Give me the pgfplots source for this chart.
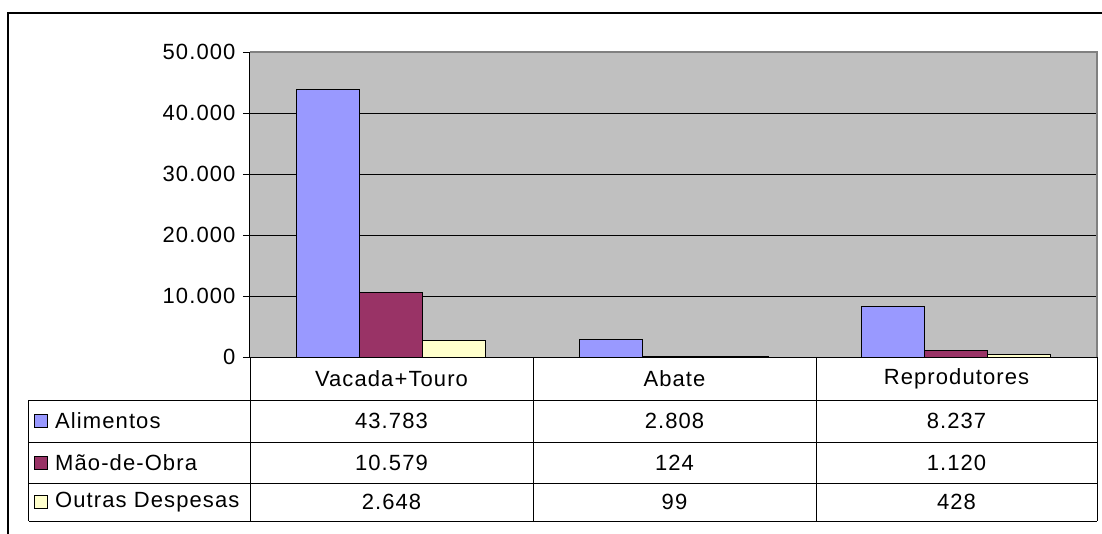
\documentclass[border=0pt]{standalone}
\usepackage{fontspec}
\setmainfont{Liberation Sans}[LetterSpace=5]
\usepackage{pgfplots}
\pgfplotsset{compat=1.18}
\definecolor{alim}{HTML}{9999FF}
\definecolor{mao}{HTML}{993366}
\definecolor{outras}{HTML}{FFFFCC}
\definecolor{plotbg}{HTML}{C0C0C0}
\begin{document}
\begin{tikzpicture}[font=\fontsize{22}{26}\selectfont]
\path[use as bounding box] (-250pt,-176pt) rectangle (852pt,357pt);
\begin{axis}[at={(0pt,0pt)}, anchor=south west, scale only axis,
  width=847pt, height=305pt,
  ybar=0pt, bar width=63pt,
  xmin=-0.5, xmax=2.5, ymin=0, ymax=50000,
  xtick=\empty,
  ytick={0,10000,20000,30000,40000,50000},
  ytick pos=left, tick align=outside, major tick length=7pt,
  tick style={black, line width=1pt},
  ymajorgrids, grid style={black, line width=1pt},
  axis background/.style={fill=plotbg},
  axis line style={draw=none},
  scaled y ticks=false,
  /pgf/number format/.cd, fixed, 1000 sep={.}, assume math mode=true, /pgfplots/.cd,
  every tick label/.append style={font=\fontsize{22}{26}\selectfont},
  yticklabel style={anchor=east, xshift=-4pt},
  clip=false,
]
\addplot[fill=alim, draw=black, line width=1pt] coordinates {(0,43783) (1,2808) (2,8237)};
\addplot[fill=mao, draw=black, line width=1pt] coordinates {(0,10579) (1,124) (2,1120)};
\addplot[fill=outras, draw=black, line width=1pt] coordinates {(0,2648) (1,99) (2,428)};
\draw[gray, line width=1.2pt] (rel axis cs:0,1) -- (rel axis cs:1,1) -- (rel axis cs:1,0);
\draw[black, line width=1pt] (rel axis cs:0,0) -- (rel axis cs:0,1);
\end{axis}
% outer frame
\draw[black, line width=1.5pt] (-242pt,-180pt) -- (-242pt,344pt) -- (860pt,344pt);
% data table
\begin{scope}[line width=1pt]
\draw (0pt,0pt) -- (847pt,0pt);
\foreach \yy in {-43,-85,-126,-164} \draw (-221pt,\yy pt) -- (847pt,\yy pt);
\foreach \xx in {0,283,566,847} \draw (\xx pt,0pt) -- (\xx pt,-164pt);
\draw (-221pt,-43pt) -- (-221pt,-164pt);
\end{scope}
\node at (141.5pt,-21.5pt) {Vacada+Touro};
\node at (424.5pt,-21.5pt) {Abate};
\node at (706.5pt,-21.5pt) {Reprodutores};
\node at (141.5pt,-64pt) {43.783};
\node at (424.5pt,-64pt) {2.808};
\node at (706.5pt,-64pt) {8.237};
\node at (141.5pt,-105.5pt) {10.579};
\node at (424.5pt,-105.5pt) {124};
\node at (706.5pt,-105.5pt) {1.120};
\node at (141.5pt,-145pt) {2.648};
\node at (424.5pt,-145pt) {99};
\node at (706.5pt,-145pt) {428};
\draw[fill=alim, line width=1pt] (-215pt,-70.5pt) rectangle (-202pt,-57.5pt);
\draw[fill=mao, line width=1pt] (-215pt,-112pt) rectangle (-202pt,-99pt);
\draw[fill=outras, line width=1pt] (-215pt,-151.5pt) rectangle (-202pt,-138.5pt);
\node[anchor=west, inner sep=0pt] at (-195pt,-64pt) {Alimentos};
\node[anchor=west, inner sep=0pt] at (-195pt,-105.5pt) {Mão-de-Obra};
\node[anchor=west, inner sep=0pt] at (-195pt,-145pt) {Outras Despesas};
\end{tikzpicture}
\end{document}
